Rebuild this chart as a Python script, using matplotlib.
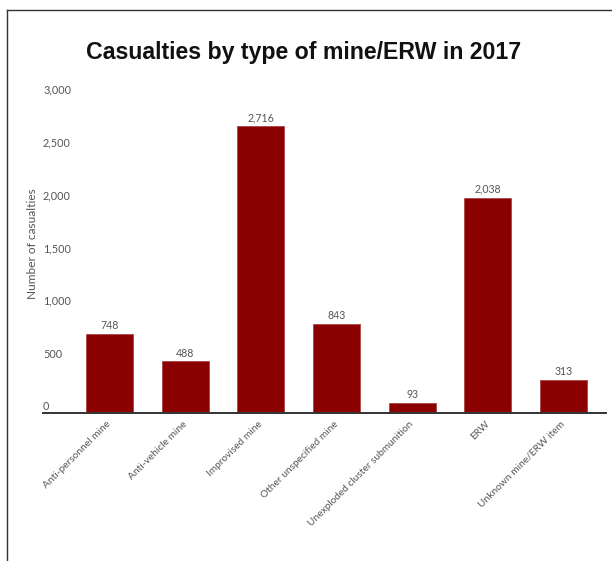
import matplotlib
matplotlib.use("Agg")
import matplotlib.pyplot as plt
from matplotlib.lines import Line2D
from matplotlib.transforms import ScaledTranslation

categories = ["Anti-personnel mine", "Anti-vehicle mine", "Improvised mine",
              "Other unspecified mine", "Unexploded cluster submunition", "ERW",
              "Unknown mine/ERW item"]
values = [748, 488, 2716, 843, 93, 2038, 313]
yticks = [0, 500, 1000, 1500, 2000, 2500, 3000]
ytick_labels = ["0", "500", "1,000", "1,500", "2,000", "2,500", "3,000"]

W, H = 612, 561
fig = plt.figure(figsize=(W / 100, H / 100), dpi=100)
fig.patch.set_facecolor("white")

ax = fig.add_axes([43 / W, 1 - 413 / H, (606 - 43) / W, (413 - 96) / H])
x = list(range(len(categories)))
bars = ax.bar(x, values, width=0.62, color="#8b0000", edgecolor="#a83a3a", linewidth=0.5, zorder=2)
ax.set_xlim(-0.88, 6.56)
ax.set_ylim(0, 3000)

label_font = dict(family=["Lato", "DejaVu Sans"], color="#555555")
for xi, v in zip(x, values):
    ax.annotate(f"{v:,}", (xi, v), xytext=(0, 2), textcoords="offset points",
                ha="center", va="bottom", fontsize=7.6, **label_font)

for s in ["left", "right", "top"]:
    ax.spines[s].set_visible(False)
ax.spines["bottom"].set_color("#333333")
ax.spines["bottom"].set_linewidth(1.4)

ax.set_yticks(yticks)
ax.set_yticklabels(ytick_labels, fontsize=7.8, **label_font)
ax.tick_params(axis="y", length=0, pad=0)
offset = ScaledTranslation(0, 7 / 100, fig.dpi_scale_trans)
for lab in ax.get_yticklabels():
    lab.set_horizontalalignment("left")
    lab.set_transform(lab.get_transform() + offset)

ax.set_xticks(x)
ax.set_xticklabels(categories, fontsize=7.3, rotation=45, ha="right",
                   rotation_mode="anchor", va="center", **label_font)
ax.tick_params(axis="x", length=0, pad=7)

fig.text(33 / W, 1 - 244 / H, "Number of casualties", rotation=90, ha="center", va="center",
         fontsize=8.6, **label_font)

fig.text(304 / W, 1 - 52 / H, "Casualties by type of mine/ERW in 2017", ha="center", va="center",
         fontsize=16.7, fontweight="bold", family=["Liberation Sans", "DejaVu Sans"], color="#111111")

# frame lines
fig.add_artist(Line2D([6.5 / W, 6.5 / W], [0, 1 - 9.5 / H], transform=fig.transFigure,
                      color="#333333", linewidth=1.0))
fig.add_artist(Line2D([6.5 / W, 1], [1 - 9.5 / H, 1 - 9.5 / H], transform=fig.transFigure,
                      color="#333333", linewidth=1.0))

fig.savefig("out.png", dpi=100, facecolor="white")
